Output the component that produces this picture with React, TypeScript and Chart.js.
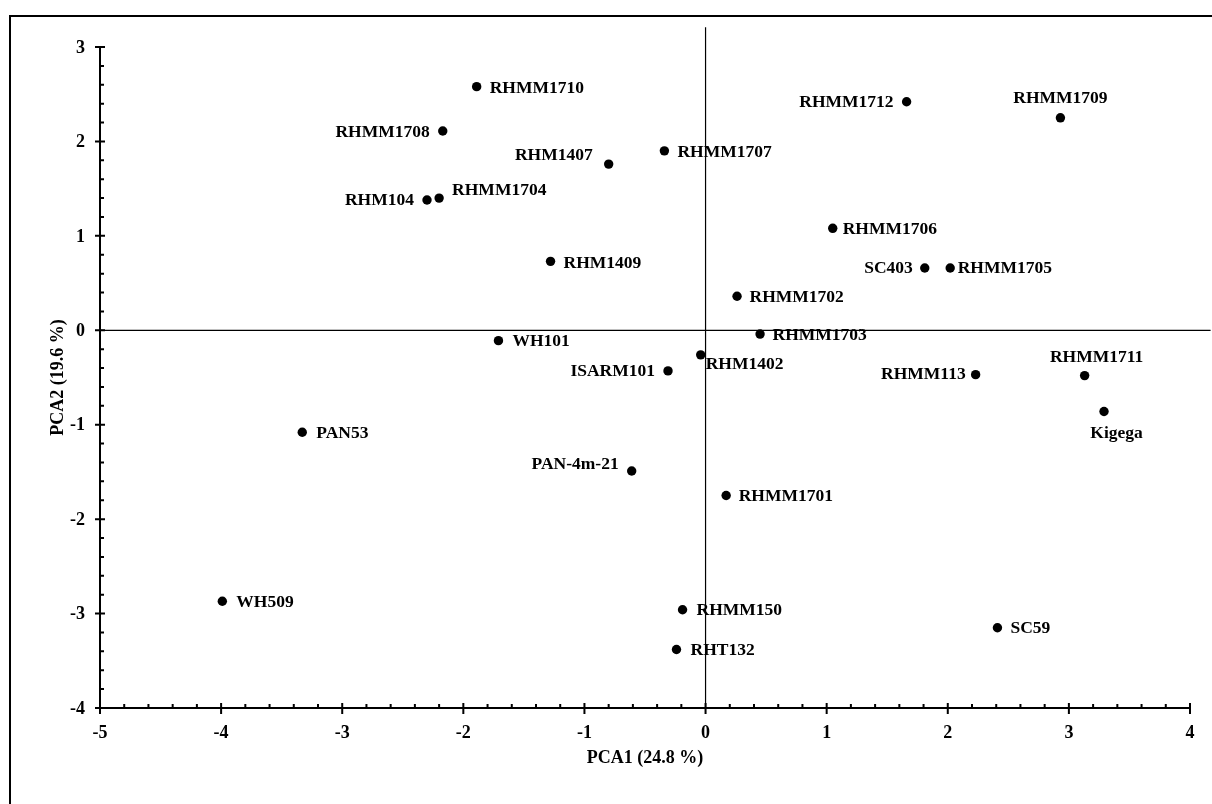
import React, { useEffect, useRef } from 'react';
import { Chart, registerables } from 'chart.js';

Chart.register(...registerables);

// ---- data ----
const genotypes = [
  'RHMM1710', 'RHMM1708', 'RHM1407', 'RHMM1707', 'RHM104', 'RHMM1704', 'RHM1409',
  'RHMM1712', 'RHMM1709', 'RHMM1706', 'SC403', 'RHMM1705', 'RHMM1702', 'RHMM1703',
  'WH101', 'ISARM101', 'RHM1402', 'PAN-4m-21', 'RHMM1701', 'RHMM113', 'RHMM1711',
  'Kigega', 'PAN53', 'WH509', 'RHMM150', 'RHT132', 'SC59',
];
const pca1 = [
  -1.89, -2.17, -0.80, -0.34, -2.30, -2.20, -1.28,
  1.66, 2.93, 1.05, 1.81, 2.02, 0.26, 0.45,
  -1.71, -0.31, -0.04, -0.61, 0.17, 2.23, 3.13,
  3.29, -3.33, -3.99, -0.19, -0.24, 2.41,
];
const pca2 = [
  2.58, 2.11, 1.76, 1.90, 1.38, 1.40, 0.73,
  2.42, 2.25, 1.08, 0.66, 0.66, 0.36, -0.04,
  -0.11, -0.43, -0.26, -1.49, -1.75, -0.47, -0.48,
  -0.86, -1.08, -2.87, -2.96, -3.38, -3.15,
];
const xTicks = [-5, -4, -3, -2, -1, 0, 1, 2, 3, 4];
const yTicks = [-4, -3, -2, -1, 0, 1, 2, 3];
const xTitle = 'PCA1 (24.8 %)';
const yTitle = 'PCA2 (19.6 %)';
// reference lines through the origin (data units)
const vLineYRange = [-4, 3.21];
const hLineXRange = [-5, 4.17];

// label placement: [dx, dy, align]
const labelPlacement: [number, number, CanvasTextAlign][] = [
  [13, 1, 'left'], [-13, 0, 'right'], [-16, -10, 'right'], [13, 1, 'left'], [-13, 0, 'right'], [13, -9, 'left'], [13, 1, 'left'],
  [-13, 0, 'right'], [0, -20, 'center'], [10, 0, 'left'], [-12, 0, 'right'], [7.5, 0, 'left'], [12.5, 0, 'left'], [12.5, 0, 'left'],
  [14, 0, 'left'], [-13, 0, 'right'], [5, 9, 'left'], [-13, -7, 'right'], [12.5, 0, 'left'], [-10, -1, 'right'], [12, -19, 'center'],
  [12.5, 21, 'center'], [14, 0, 'left'], [14, 0, 'left'], [14, 0, 'left'], [14, 0, 'left'], [13, 0, 'left'],
];

const FONT = '"Liberation Serif", "Times New Roman", serif';

const axesPlugin = {
  id: 'pcaAxes',
  afterDraw(chart: any) {
    const ctx: CanvasRenderingContext2D = chart.ctx;
    const xs = chart.scales.x;
    const ys = chart.scales.y;
    const px = (v: number) => xs.getPixelForValue(v);
    const py = (v: number) => ys.getPixelForValue(v);
    const x0 = px(xTicks[0]);
    const x1 = px(xTicks[xTicks.length - 1]);
    const y0 = py(yTicks[0]);
    const y1 = py(yTicks[yTicks.length - 1]);

    ctx.save();
    ctx.strokeStyle = '#000';
    ctx.fillStyle = '#000';

    // outer frame
    ctx.lineWidth = 2;
    ctx.beginPath();
    ctx.moveTo(10, chart.height + 5);
    ctx.lineTo(10, 16);
    ctx.lineTo(chart.width + 5, 16);
    ctx.stroke();

    // axis lines
    ctx.lineWidth = 2;
    ctx.beginPath();
    ctx.moveTo(x0, y0);
    ctx.lineTo(x1, y0);
    ctx.moveTo(x0, y0);
    ctx.lineTo(x0, y1);
    ctx.stroke();

    // x ticks
    ctx.lineWidth = 2;
    ctx.beginPath();
    for (let i = 0; i < xTicks.length; i++) {
      const x = px(xTicks[i]);
      ctx.moveTo(x, y0 - 5);
      ctx.lineTo(x, y0 + 6);
      if (i < xTicks.length - 1) {
        for (let k = 1; k < 5; k++) {
          const xm = px(xTicks[i] + k * 0.2);
          ctx.moveTo(xm, y0);
          ctx.lineTo(xm, y0 - 4);
        }
      }
    }
    // y ticks
    for (let i = 0; i < yTicks.length; i++) {
      const y = py(yTicks[i]);
      ctx.moveTo(x0 - 5, y);
      ctx.lineTo(x0 + 5, y);
      if (i < yTicks.length - 1) {
        for (let k = 1; k < 5; k++) {
          const ym = py(yTicks[i] + k * 0.2);
          ctx.moveTo(x0, ym);
          ctx.lineTo(x0 + 4, ym);
        }
      }
    }
    ctx.stroke();

    // tick labels
    ctx.font = `bold 18px ${FONT}`;
    ctx.textAlign = 'center';
    ctx.textBaseline = 'middle';
    xTicks.forEach((t) => ctx.fillText(String(t), px(t), y0 + 25));
    ctx.textAlign = 'right';
    yTicks.forEach((t) => ctx.fillText(String(t), x0 - 15, py(t) + 1));

    // axis titles
    ctx.font = `bold 18px ${FONT}`;
    ctx.textAlign = 'center';
    ctx.fillText(xTitle, (x0 + x1) / 2, y0 + 50);
    ctx.save();
    ctx.translate(x0 - 42, (y0 + y1) / 2);
    ctx.rotate(-Math.PI / 2);
    ctx.fillText(yTitle, 0, 0);
    ctx.restore();

    // point labels
    ctx.font = `bold 17.5px ${FONT}`;
    ctx.textBaseline = 'middle';
    genotypes.forEach((name, i) => {
      const [dx, dy, align] = labelPlacement[i];
      ctx.textAlign = align;
      ctx.fillText(name, px(pca1[i]) + dx, py(pca2[i]) + dy + 1);
    });

    ctx.restore();
  },
};

export default function App() {
  const canvasRef = useRef<HTMLCanvasElement | null>(null);

  useEffect(() => {
    const canvas = canvasRef.current;
    if (!canvas) return;
    const points = genotypes.map((_, i) => ({ x: pca1[i], y: pca2[i] }));
    const chart = new Chart(canvas, {
      type: 'scatter',
      data: {
        datasets: [
          {
            type: 'scatter',
            data: points,
            pointRadius: 4.7,
            pointHoverRadius: 4.7,
            backgroundColor: '#000',
            borderColor: '#000',
            borderWidth: 0,
            order: 1,
          } as any,
          {
            type: 'line',
            data: [{ x: 0, y: vLineYRange[0] }, { x: 0, y: vLineYRange[1] }],
            borderColor: '#000',
            borderWidth: 1.2,
            pointRadius: 0,
            fill: false,
            clip: false,
            order: 2,
          } as any,
          {
            type: 'line',
            data: [{ x: hLineXRange[0], y: 0 }, { x: hLineXRange[1], y: 0 }],
            borderColor: '#000',
            borderWidth: 1.2,
            pointRadius: 0,
            fill: false,
            clip: false,
            order: 2,
          } as any,
        ],
      },
      options: {
        animation: false,
        responsive: false,
        maintainAspectRatio: false,
        events: [],
        layout: { padding: { left: 100, right: 22, top: 47, bottom: 96 } },
        scales: {
          x: { type: 'linear', min: -5, max: 4, display: false },
          y: { type: 'linear', min: -4, max: 3, display: false },
        },
        plugins: {
          legend: { display: false },
          tooltip: { enabled: false },
        },
      },
      plugins: [axesPlugin],
    });
    return () => chart.destroy();
  }, []);

  return (
    <div style={{ position: 'absolute', left: 0, top: 0, width: 1212, height: 804, background: '#fff' }}>
      <canvas ref={canvasRef} width={1212} height={804} style={{ width: 1212, height: 804, display: 'block' }} />
    </div>
  );
}
